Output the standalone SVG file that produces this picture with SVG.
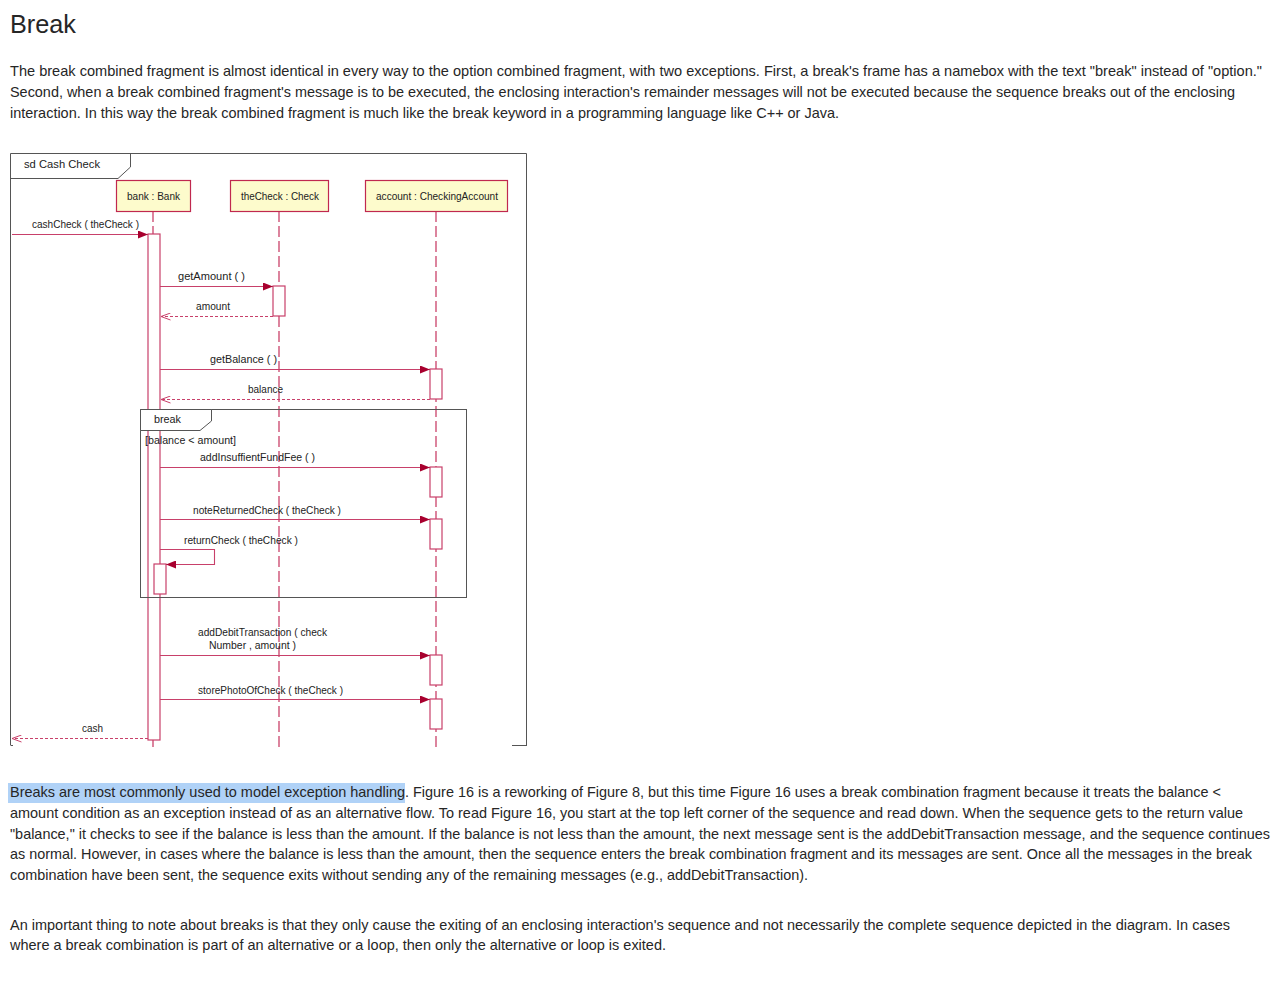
<svg xmlns="http://www.w3.org/2000/svg" width="1280" height="981" viewBox="0 0 1280 981">
<defs>
<style>
.page{font-family:"Liberation Sans","Noto Sans",sans-serif;fill:#262626}
.h1{font-size:26px}
.p{font-size:14.5px}
.lbl{font-family:"Liberation Sans","DejaVu Sans",sans-serif;font-size:10.5px;fill:#222}
.frame{fill:none;stroke:#555;stroke-width:1}
.nb{fill:#fff;stroke:#555;stroke-width:1}
.head{fill:#fdfbcc;stroke:#c0284f;stroke-width:1.2}
.life{stroke:#c0204f;stroke-width:1.1;stroke-dasharray:11 4;fill:none}
.act{fill:#fff;stroke:#c8406a;stroke-width:1.2}
.msg{stroke:#c8406a;stroke-width:1.1;fill:none}
.ret{stroke:#c8406a;stroke-width:1;stroke-dasharray:3 2;fill:none}
</style>
<marker id="sync" viewBox="0 0 10 8" refX="10" refY="4" markerWidth="10" markerHeight="8" markerUnits="userSpaceOnUse" orient="auto">
<path d="M0,0 L10,4 L0,8 Z" fill="#a8002e"/>
</marker>
<marker id="open" viewBox="0 0 10 8" refX="9.5" refY="4" markerWidth="10" markerHeight="8" markerUnits="userSpaceOnUse" orient="auto">
<path d="M0,0.5 L9.5,4 L0,7.5" fill="none" stroke="#c8406a" stroke-width="1"/>
</marker>
</defs>
<rect width="1280" height="981" fill="#fff"/>

<g id="page-text" class="page">
<text class="h1" x="10" y="33" textLength="66" lengthAdjust="spacingAndGlyphs">Break</text>
<text class="p" x="10" y="76" textLength="1252" lengthAdjust="spacingAndGlyphs">The break combined fragment is almost identical in every way to the option combined fragment, with two exceptions. First, a break's frame has a namebox with the text "break" instead of "option."</text>
<text class="p" x="10" y="97" textLength="1225" lengthAdjust="spacingAndGlyphs">Second, when a break combined fragment's message is to be executed, the enclosing interaction's remainder messages will not be executed because the sequence breaks out of the enclosing</text>
<text class="p" x="10" y="118" textLength="829" lengthAdjust="spacingAndGlyphs">interaction. In this way the break combined fragment is much like the break keyword in a programming language like C++ or Java.</text>

<rect x="8" y="783" width="397" height="20" fill="#b0d2f7"/>
<text class="p" x="10" y="797" textLength="395" lengthAdjust="spacingAndGlyphs">Breaks are most commonly used to model exception handling</text>
<text class="p" x="405" y="797" textLength="816" lengthAdjust="spacingAndGlyphs">. Figure 16 is a reworking of Figure 8, but this time Figure 16 uses a break combination fragment because it treats the balance &lt;</text>
<text class="p" x="10" y="818" textLength="1233" lengthAdjust="spacingAndGlyphs">amount condition as an exception instead of as an alternative flow. To read Figure 16, you start at the top left corner of the sequence and read down. When the sequence gets to the return value</text>
<text class="p" x="10" y="839" textLength="1260" lengthAdjust="spacingAndGlyphs">"balance," it checks to see if the balance is less than the amount. If the balance is not less than the amount, the next message sent is the addDebitTransaction message, and the sequence continues</text>
<text class="p" x="10" y="859" textLength="1242" lengthAdjust="spacingAndGlyphs">as normal. However, in cases where the balance is less than the amount, then the sequence enters the break combination fragment and its messages are sent. Once all the messages in the break</text>
<text class="p" x="10" y="880" textLength="798" lengthAdjust="spacingAndGlyphs">combination have been sent, the sequence exits without sending any of the remaining messages (e.g., addDebitTransaction).</text>
<text class="p" x="10" y="930" textLength="1220" lengthAdjust="spacingAndGlyphs">An important thing to note about breaks is that they only cause the exiting of an enclosing interaction's sequence and not necessarily the complete sequence depicted in the diagram. In cases</text>
<text class="p" x="10" y="950" textLength="656" lengthAdjust="spacingAndGlyphs">where a break combination is part of an alternative or a loop, then only the alternative or loop is exited.</text>
</g>

<g id="frame-sd">
<path class="frame" d="M10.5,745 V153.5 H526.5 V745 M512,745.5 H527 M10.5,745.5 H13"/>
<path class="frame" d="M10.5,178.5 H118 L130.5,167 V153.5"/>
<text class="lbl" x="24" y="168" font-size="11" textLength="76" lengthAdjust="spacingAndGlyphs">sd Cash Check</text>
</g>

<g id="lifelines">
<line class="life" x1="153" y1="211" x2="153" y2="748"/>
<line class="life" x1="279" y1="211" x2="279" y2="748"/>
<line class="life" x1="436" y1="211" x2="436" y2="748"/>
</g>

<g id="bank">
<rect class="head" x="116.5" y="180.5" width="74" height="31"/>
<text class="lbl" x="127" y="200" textLength="53" lengthAdjust="spacingAndGlyphs">bank : Bank</text>
<rect class="act" x="148" y="234" width="12" height="506"/>
</g>

<g id="theCheck">
<rect class="head" x="230.5" y="180.5" width="98" height="31"/>
<text class="lbl" x="241" y="200" textLength="78" lengthAdjust="spacingAndGlyphs">theCheck : Check</text>
<rect class="act" x="273" y="286" width="12" height="30"/>
</g>

<g id="account">
<rect class="head" x="365.5" y="180.5" width="142" height="31"/>
<text class="lbl" x="376" y="200" textLength="122" lengthAdjust="spacingAndGlyphs">account : CheckingAccount</text>
<rect class="act" x="430" y="369" width="12" height="30"/>
<rect class="act" x="430" y="467" width="12" height="30"/>
<rect class="act" x="430" y="519" width="12" height="30"/>
<rect class="act" x="430" y="655" width="12" height="30"/>
<rect class="act" x="430" y="699" width="12" height="30"/>
</g>

<g id="frame-break">
<rect class="frame" x="140.5" y="409.5" width="326" height="188"/>
<path class="nb" d="M140.5,430.5 H200 L211.5,421 V409.5 H140.5 Z"/>
<text class="lbl" x="154" y="423" textLength="27" lengthAdjust="spacingAndGlyphs">break</text>
<text class="lbl" x="145" y="444" textLength="91" lengthAdjust="spacingAndGlyphs">[balance &lt; amount]</text>
</g>

<g id="bank-nested">
<rect class="act" x="154" y="564" width="12" height="30"/>
</g>

<g id="connectors">
<line class="msg" x1="12" y1="234.5" x2="148" y2="234.5" marker-end="url(#sync)"/>
<text class="lbl" x="32" y="228" textLength="107" lengthAdjust="spacingAndGlyphs">cashCheck ( theCheck )</text>

<line class="msg" x1="160" y1="286.5" x2="273" y2="286.5" marker-end="url(#sync)"/>
<text class="lbl" x="178" y="280" textLength="67" lengthAdjust="spacingAndGlyphs">getAmount ( )</text>

<line class="ret" x1="273" y1="316.5" x2="161" y2="316.5" marker-end="url(#open)"/>
<text class="lbl" x="196" y="310" textLength="34" lengthAdjust="spacingAndGlyphs">amount</text>

<line class="msg" x1="160" y1="369.5" x2="430" y2="369.5" marker-end="url(#sync)"/>
<text class="lbl" x="210" y="363" textLength="67" lengthAdjust="spacingAndGlyphs">getBalance ( )</text>

<line class="ret" x1="430" y1="399.5" x2="161" y2="399.5" marker-end="url(#open)"/>
<text class="lbl" x="248" y="393" textLength="35" lengthAdjust="spacingAndGlyphs">balance</text>

<line class="msg" x1="160" y1="467.5" x2="430" y2="467.5" marker-end="url(#sync)"/>
<text class="lbl" x="200" y="461" textLength="115" lengthAdjust="spacingAndGlyphs">addInsuffientFundFee ( )</text>

<line class="msg" x1="160" y1="519.5" x2="430" y2="519.5" marker-end="url(#sync)"/>
<text class="lbl" x="193" y="514" textLength="148" lengthAdjust="spacingAndGlyphs">noteReturnedCheck ( theCheck )</text>

<path class="msg" d="M160,549.5 H214.5 V564.5 H166" marker-end="url(#sync)"/>
<text class="lbl" x="184" y="544" textLength="114" lengthAdjust="spacingAndGlyphs">returnCheck ( theCheck )</text>

<line class="msg" x1="160" y1="655.5" x2="430" y2="655.5" marker-end="url(#sync)"/>
<text class="lbl" x="198" y="636" textLength="129" lengthAdjust="spacingAndGlyphs">addDebitTransaction ( check</text>
<text class="lbl" x="209" y="649" textLength="87" lengthAdjust="spacingAndGlyphs">Number , amount )</text>

<line class="msg" x1="160" y1="699.5" x2="430" y2="699.5" marker-end="url(#sync)"/>
<text class="lbl" x="198" y="694" textLength="145" lengthAdjust="spacingAndGlyphs">storePhotoOfCheck ( theCheck )</text>

<line class="ret" x1="148" y1="738.5" x2="12" y2="738.5" marker-end="url(#open)"/>
<text class="lbl" x="82" y="732" textLength="21" lengthAdjust="spacingAndGlyphs">cash</text>
</g>
</svg>
